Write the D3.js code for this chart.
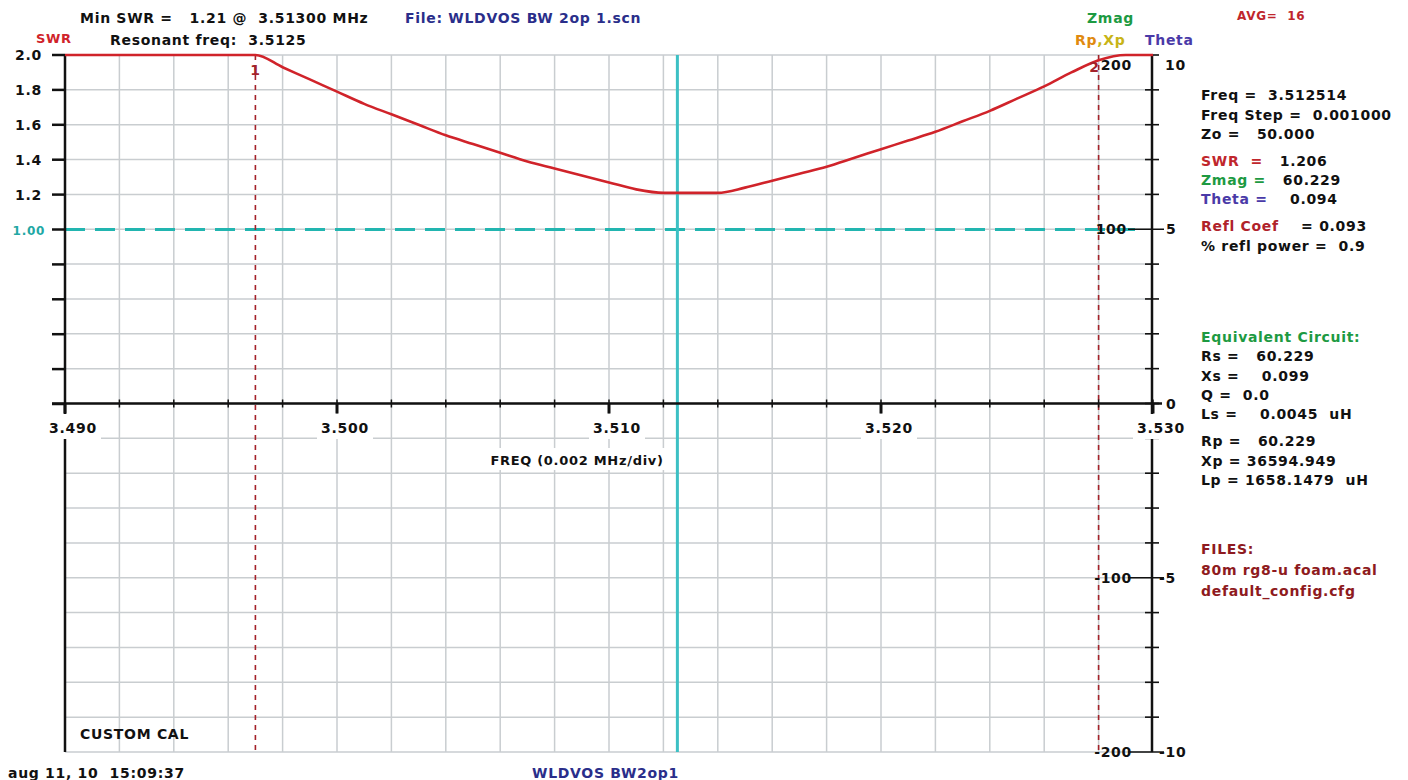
<!DOCTYPE html>
<html>
  <head>
    <meta charset="UTF-8">
    <style>
      body { margin: 0; background: #fff; }
      svg text {
        font-family: "DejaVu Sans", Verdana, sans-serif;
        font-weight: bold;
        font-size: 14px;
        letter-spacing: 0.7px;
        white-space: pre;
      }
    </style>
    <script src="https://cdn.jsdelivr.net/npm/d3@7"></script>
  </head>
  <body>
    <svg id="chart"></svg>
    <script type="text/javascript">
      // sweep, 0.001 MHz steps
      let freqs = d3.range(41).map(i => +(3.490 + i * 0.001).toFixed(3))
      let swrValues = [
        2.00, 2.00, 2.00, 2.00, 2.00, 2.00, 2.00, 2.00,
        1.93, 1.86, 1.79, 1.72, 1.66, 1.60, 1.54, 1.49,
        1.44, 1.39, 1.35, 1.31, 1.27, 1.23, 1.21, 1.21,
        1.21, 1.24, 1.28, 1.32, 1.36, 1.41, 1.46, 1.51,
        1.56, 1.62, 1.68, 1.75, 1.82, 1.90, 1.97, 2.00, 2.00
      ]
      let freqLabels = [3.490, 3.500, 3.510, 3.520, 3.530]
      let swrTicks = [0, 0.2, 0.4, 0.6, 0.8, 1.0, 1.2, 1.4, 1.6, 1.8, 2.0]
      let zmagLabels = [200, 100, -100, -200]
      let thetaLabels = [10, 5, 0, -5, -10]
      let markers = [{name: '1', freq: 3.497}, {name: '2', freq: 3.528}]
      let cursorFreq = 3.512514
      let refSwr = 1.0

      let readout = [
        {y: 95, parts: [['Freq =  3.512514', '#111']]},
        {y: 115, parts: [['Freq Step =  0.001000', '#111']]},
        {y: 134, parts: [['Zo =   50.000', '#111']]},
        {y: 161, parts: [['SWR  =   ', '#c0262c'], ['1.206', '#111']]},
        {y: 180, parts: [['Zmag =   ', '#1d9a42'], ['60.229', '#111']]},
        {y: 199, parts: [['Theta =    ', '#4a3aa8'], ['0.094', '#111']]},
        {y: 226, parts: [['Refl Coef', '#b0222a'], ['    = 0.093', '#111']]},
        {y: 246, parts: [['% refl power =  0.9', '#111']]},
        {y: 337, parts: [['Equivalent Circuit:', '#1d9a42']]},
        {y: 356, parts: [['Rs =   60.229', '#111']]},
        {y: 376, parts: [['Xs =    0.099', '#111']]},
        {y: 395, parts: [['Q =  0.0', '#111']]},
        {y: 414, parts: [['Ls =    0.0045  uH', '#111']]},
        {y: 441, parts: [['Rp =   60.229', '#111']]},
        {y: 461, parts: [['Xp = 36594.949', '#111']]},
        {y: 480, parts: [['Lp = 1658.1479  uH', '#111']]},
        {y: 549, parts: [['FILES:', '#8e1a20']]},
        {y: 570, parts: [['80m rg8-u foam.acal', '#8e1a20']]},
        {y: 591, parts: [['default_config.cfg', '#8e1a20']]}
      ]

      let width = 1408
      let height = 780
      let svg = d3.select('#chart').attr('width', width).attr('height', height)

      let plotLeft = 65, plotRight = 1153, plotTop = 55, plotBottom = 752
      let xScale = d3.scaleLinear().domain([3.490, 3.530]).range([plotLeft, plotRight])
      let swrScale = d3.scaleLinear().domain([0, 2]).range([404, plotTop])
      let thetaScale = d3.scaleLinear().domain([-10, 10]).range([plotBottom, plotTop])
      let zmagScale = d3.scaleLinear().domain([-200, 200]).range([plotBottom, plotTop])
      let axisY = thetaScale(0)

      // grid
      let grid = svg.append('g').attr('stroke', '#c9cdd0').attr('stroke-width', 1.5)
      d3.range(3.492, 3.5295, 0.002).forEach(f => {
        grid.append('line')
          .attr('x1', xScale(f)).attr('x2', xScale(f))
          .attr('y1', plotTop).attr('y2', plotBottom)
      })
      d3.range(-10, 10.5, 1).forEach(t => {
        grid.append('line')
          .attr('x1', plotLeft).attr('x2', plotRight)
          .attr('y1', thetaScale(t)).attr('y2', thetaScale(t))
      })

      // reference SWR 1.00 dashed
      svg.append('line')
        .attr('x1', plotLeft).attr('x2', 1138)
        .attr('y1', swrScale(refSwr)).attr('y2', swrScale(refSwr))
        .attr('stroke', '#22b5b0').attr('stroke-width', 3)
        .attr('stroke-dasharray', '20,10')

      // markers
      markers.forEach(m => {
        svg.append('line')
          .attr('x1', xScale(m.freq)).attr('x2', xScale(m.freq))
          .attr('y1', plotTop).attr('y2', plotBottom)
          .attr('stroke', '#a3222a').attr('stroke-width', 1.6)
          .attr('stroke-dasharray', '5,5')
      })

      // cursor
      svg.append('line')
        .attr('x1', xScale(cursorFreq)).attr('x2', xScale(cursorFreq))
        .attr('y1', plotTop).attr('y2', plotBottom)
        .attr('stroke', '#3cc0c4').attr('stroke-width', 3)

      // axes
      let axes = svg.append('g').attr('stroke', '#111')
      axes.append('line').attr('x1', plotLeft).attr('x2', plotLeft)
        .attr('y1', plotTop).attr('y2', plotBottom).attr('stroke-width', 2.5)
      axes.append('line').attr('x1', plotRight - 1).attr('x2', plotRight - 1)
        .attr('y1', plotTop).attr('y2', plotBottom).attr('stroke-width', 2.5)
      axes.append('line').attr('x1', 52).attr('x2', 1162)
        .attr('y1', axisY).attr('y2', axisY).attr('stroke-width', 2.5)

      swrTicks.forEach(s => {
        axes.append('line').attr('x1', 52).attr('x2', plotLeft)
          .attr('y1', swrScale(s)).attr('y2', swrScale(s)).attr('stroke-width', 2.5)
      })
      d3.range(3.490, 3.5305, 0.002).forEach(f => {
        axes.append('line').attr('x1', xScale(f)).attr('x2', xScale(f))
          .attr('y1', axisY - 4).attr('y2', axisY + 4).attr('stroke-width', 1.5)
      })
      freqLabels.forEach(f => {
        axes.append('line').attr('x1', xScale(f)).attr('x2', xScale(f))
          .attr('y1', axisY).attr('y2', axisY + 10).attr('stroke-width', 3)
      })
      d3.range(-10, 10.5, 1).forEach(t => {
        let long = thetaLabels.includes(t) && t !== 10 && t !== 0
        axes.append('line')
          .attr('x1', long ? 1128 : plotRight - 8).attr('x2', long ? 1164 : plotRight + 6)
          .attr('y1', thetaScale(t)).attr('y2', thetaScale(t)).attr('stroke-width', 1.6)
      })

      // SWR trace
      let line = d3.line()
        .x((d, i) => xScale(freqs[i]))
        .y(d => swrScale(d))
        .curve(d3.curveMonotoneX)
      svg.append('path')
        .datum(swrValues)
        .attr('d', line)
        .attr('fill', 'none')
        .attr('stroke', '#d0232a')
        .attr('stroke-width', 2.6)

      // x labels with white background
      freqLabels.forEach(f => {
        let cx = xScale(f) + 8
        svg.append('rect').attr('x', cx - 28).attr('y', 414)
          .attr('width', 56).attr('height', 25).attr('fill', '#fff')
        svg.append('text').attr('x', cx).attr('y', 433)
          .attr('text-anchor', 'middle').attr('fill', '#111')
          .text(f.toFixed(3))
      })
      svg.append('rect').attr('x', 484).attr('y', 448).attr('width', 186).attr('height', 22).attr('fill', '#fff')
      svg.append('text').attr('x', 577).attr('y', 465).attr('text-anchor', 'middle')
        .attr('fill', '#111').style('font-size', '13px').text('FREQ (0.002 MHz/div)')

      // SWR labels
      swrTicks.filter(s => s >= 1.1).forEach(s => {
        svg.append('text').attr('x', 42).attr('y', swrScale(s) + 5)
          .attr('text-anchor', 'end').attr('fill', '#111').text(s.toFixed(1))
      })
      svg.append('text').attr('x', 45).attr('y', swrScale(refSwr) + 5)
        .attr('text-anchor', 'end').attr('fill', '#22a8a4').style('font-size', '12px')
        .text(refSwr.toFixed(2))

      // Zmag labels
      zmagLabels.forEach(z => {
        svg.append('text').attr('x', z < 0 ? 1132 : (z === 200 ? 1132 : 1127))
          .attr('y', z === 200 ? zmagScale(z) + 15 : zmagScale(z) + 5)
          .attr('text-anchor', 'end').attr('fill', '#111').text(z)
      })

      // Theta labels
      thetaLabels.forEach(t => {
        svg.append('text').attr('x', t === 10 ? 1165 : (t < 0 ? 1159 : 1166))
          .attr('y', t === 10 ? thetaScale(t) + 15 : thetaScale(t) + 5)
          .attr('fill', '#111').text(t)
      })

      // marker labels
      markers.forEach(m => {
        svg.append('text').attr('x', xScale(m.freq) - (m.name === '2' ? 4 : 0))
          .attr('y', m.name === '1' ? 75 : 72)
          .attr('text-anchor', 'middle').attr('fill', '#a3222a').text(m.name)
      })

      // header texts
      svg.append('text').attr('x', 80).attr('y', 23).attr('fill', '#111')
        .text('Min SWR =   1.21 @  3.51300 MHz')
      svg.append('text').attr('x', 110).attr('y', 45).attr('fill', '#111')
        .text('Resonant freq:  3.5125')
      svg.append('text').attr('x', 36).attr('y', 43).attr('fill', '#d0232a').style('font-size', '13px').text('SWR')
      svg.append('text').attr('x', 405).attr('y', 23).attr('fill', '#2a2e8a')
        .text('File: WLDVOS BW 2op 1.scn')
      svg.append('text').attr('x', 1087).attr('y', 23).attr('fill', '#1d9a42').text('Zmag')
      svg.append('text').attr('x', 1237).attr('y', 20).attr('fill', '#c0262c')
        .style('font-size', '12px').text('AVG=  16')
      let rp = svg.append('text').attr('x', 1075).attr('y', 45)
      rp.append('tspan').attr('fill', '#e08a10').text('Rp')
      rp.append('tspan').attr('fill', '#c8b416').text(',Xp')
      svg.append('text').attr('x', 1145).attr('y', 45).attr('fill', '#4a3aa8').text('Theta')

      // readout panel
      readout.forEach(r => {
        let t = svg.append('text').attr('x', 1201).attr('y', r.y + 5)
        r.parts.forEach(p => t.append('tspan').attr('fill', p[1]).text(p[0]))
      })

      // footer
      svg.append('text').attr('x', 80).attr('y', 739).attr('fill', '#111').text('CUSTOM CAL')
      svg.append('text').attr('x', 8).attr('y', 778).attr('fill', '#111').text('aug 11, 10  15:09:37')
      svg.append('text').attr('x', 532).attr('y', 778).attr('fill', '#2a2e8a').text('WLDVOS BW2op1')
    </script>
  </body>
</html>
